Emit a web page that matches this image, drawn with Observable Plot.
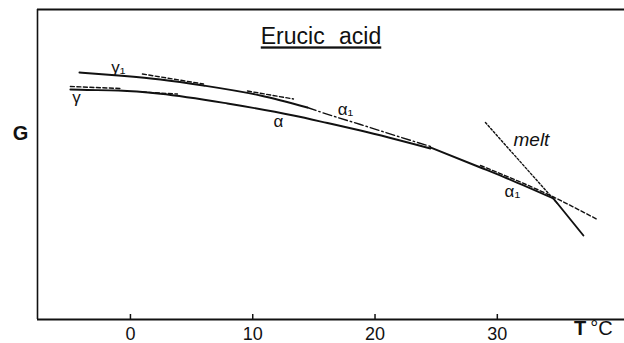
<!DOCTYPE html>
<html><head><meta charset="utf-8">
<script src="https://cdn.jsdelivr.net/npm/d3@7"></script>
<script src="https://cdn.jsdelivr.net/npm/@observablehq/plot@0.6"></script>
<style>body{margin:0;background:#fff} #chart svg{display:block}</style>
</head><body><div id="chart"></div>
<script>
// Temperature (°C) ticks
const xTicks = [0, 10, 20, 30];

// Curves: T in °C, G in arbitrary units
const gamma1T = [-4.17, -0.98, 2.45, 5.97, 10.63, 14.47];
const gamma1G = [24.7, 24.4, 24.0, 23.4, 22.4, 21.2];

const alphaT = [-4.91, -4.09, -0.98, 2.45, 7.93, 13.33, 16.11, 18.81, 24.53];
const alphaG = [23.0, 22.97, 22.9, 22.57, 21.6, 20.4, 19.65, 18.9, 17.1];

const alpha1DashDotT = [14.47, 15.54, 18.81, 23.47, 24.53];
const alpha1DashDotG = [21.2, 20.75, 19.5, 17.7, 17.3];

const alpha1T = [24.53, 28.62, 30.83, 34.59];
const alpha1G = [17.2, 15.2, 14.1, 12.1];

const meltT = [34.59, 37.04];
const meltG = [12.1, 8.4];

const alpha1ExtT = [28.62, 34.59, 38.18];
const alpha1ExtG = [15.4, 12.25, 10.0];

const meltExtT = [29.03, 34.91];
const meltExtG = [19.7, 11.6];

const gamma1Ext1T = [0.98, 5.97], gamma1Ext1G = [24.55, 23.55];
const gamma1Ext2T = [9.57, 13.33], gamma1Ext2G = [22.85, 22.05];
const gammaExt1T = [-4.91, -0.82], gammaExt1G = [23.3, 23.1];
const gammaExt2T = [0.98, 3.84], gammaExt2G = [22.75, 22.55];

// Curve labels
const labelText = ["γ₁", "γ", "α", "α₁", "α₁"];
const labelT = [-0.98, -4.42, 12.1, 17.58, 31.23];
const labelG = [25.2, 22.2, 19.8, 21.0, 12.8];

const rows = (T, G) => T.map((t, i) => ({T: t, G: G[i]}));
const ink = "#111";

const solid = (T, G) => Plot.line(rows(T, G), {x: "T", y: "G", stroke: ink, strokeWidth: 1.9, curve: "monotone-x"});
const dashed = (T, G, dash) => Plot.line(rows(T, G), {x: "T", y: "G", stroke: ink, strokeWidth: 1.4, strokeDasharray: dash, curve: "monotone-x"});

const labels = labelText.map((s, i) => ({s, T: labelT[i], G: labelG[i]}));

const chart = Plot.plot({
  width: 624, height: 343,
  marginTop: 9, marginBottom: 24, marginLeft: 37, marginRight: 0,
  x: {domain: [-7.6, 40.4]},
  y: {domain: [0, 31], axis: null},
  style: {fontFamily: "'Liberation Sans', Arial, sans-serif", color: ink, background: "#fff"},
  marks: [
    Plot.ruleX([-7.6], {stroke: ink, strokeWidth: 1.6}),
    Plot.ruleY([31], {stroke: ink, strokeWidth: 2}),
    Plot.ruleY([0], {stroke: ink, strokeWidth: 2}),
    Plot.ruleX(xTicks, {x: d => d, y1: 0, y2: 0.5, stroke: ink, strokeWidth: 1.5}),
    Plot.axisX({ticks: xTicks, tickSize: 0, tickPadding: 8, fontSize: 18, label: null}),
    solid(gamma1T, gamma1G),
    solid(alphaT, alphaG),
    dashed(alpha1DashDotT, alpha1DashDotG, "9,3,1.5,3"),
    solid(alpha1T, alpha1G),
    solid(meltT, meltG),
    dashed(alpha1ExtT, alpha1ExtG, "4,2.5"),
    dashed(meltExtT, meltExtG, "2,2"),
    dashed(gamma1Ext1T, gamma1Ext1G, "4,2.5"),
    dashed(gamma1Ext2T, gamma1Ext2G, "4,2.5"),
    dashed(gammaExt1T, gammaExt1G, "4,2.5"),
    dashed(gammaExt2T, gammaExt2G, "4,2.5"),
    Plot.text(labels, {x: "T", y: "G", text: "s", fontSize: 17, fill: ink}),
    Plot.text(["melt"], {x: [32.79], y: [18.0], fontSize: 19, fontStyle: "italic", fill: ink}),
    Plot.text(["Erucic acid"], {frameAnchor: "top", textAnchor: "middle", dx: -10, dy: 27.5, lineAnchor: "middle", fontSize: 23, fill: ink}),
    Plot.text(["G"], {frameAnchor: "left", textAnchor: "middle", dx: -17, dy: -31, fontSize: 20, fontWeight: "bold", fill: ink}),
    Plot.text(["T"], {frameAnchor: "bottom-right", textAnchor: "middle", dx: -44.5, dy: 15.5, fontSize: 20, fontWeight: "bold", fill: ink}),
    Plot.text(["°C"], {frameAnchor: "bottom-right", textAnchor: "middle", dx: -23, dy: 15.5, fontSize: 20, fill: ink})
  ]
});
document.getElementById("chart").append(chart);
d3.select(chart).selectAll("text")
  .filter(function() { return this.textContent === "Erucic acid"; })
  .style("text-decoration", "underline")
  .style("word-spacing", "8px");
</script>
</body></html>
